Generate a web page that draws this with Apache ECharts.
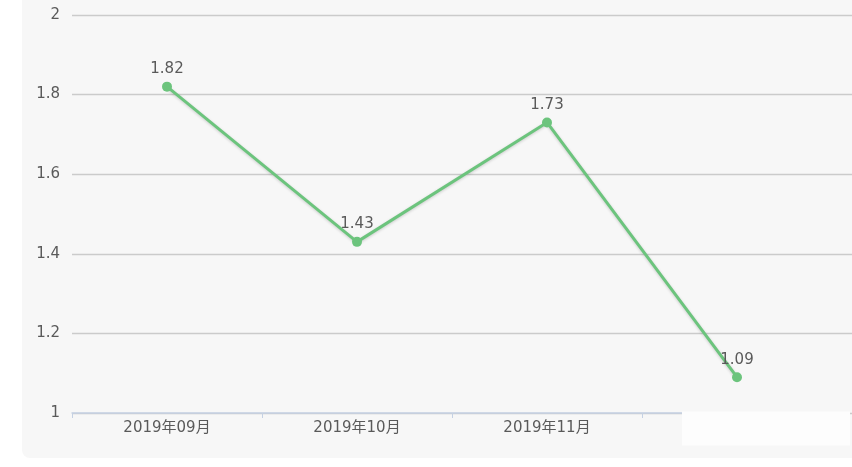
<!DOCTYPE html>
<html>
<head>
<meta charset="utf-8">
<script src="https://cdn.jsdelivr.net/npm/echarts@6/dist/echarts.min.js"></script>
<style>html,body{margin:0;padding:0;background:#fff;}#c{width:852px;height:467px;}</style>
</head>
<body>
<div id="c"></div>
<script>
const categories = ['2019年09月', '2019年10月', '2019年11月', '2019年12月'];
const values = [1.82, 1.43, 1.73, 1.09];
const yMin = 1, yMax = 2, yInterval = 0.2;

const chart = echarts.init(document.getElementById('c'), null, {renderer: 'canvas'});
const font = '"DejaVu Sans", "Noto Sans CJK SC", sans-serif';
chart.setOption({
  backgroundColor: '#ffffff',
  animation: false,
  graphic: [
    {type: 'rect', z: -10, shape: {x: 22, y: -10, width: 850, height: 468, r: 8}, style: {fill: '#f7f7f7'}},
    {type: 'rect', z: 100, shape: {x: 682, y: 411.5, width: 168, height: 34}, style: {fill: '#fdfdfd'}}
  ],
  grid: [
    {left: 72, right: 20, top: 15, bottom: 54},
    {left: 72, right: 0, top: 15, bottom: 54}
  ],
  xAxis: [
    {
      type: 'category', gridIndex: 0, data: categories, boundaryGap: true,
      axisLine: {lineStyle: {color: '#c5d1e3', width: 1.5}},
      axisTick: {show: true, alignWithLabel: false, length: 5, lineStyle: {color: '#c5d1e3'}},
      axisLabel: {color: '#5a5a5a', fontSize: 15, margin: 8, fontFamily: font}
    },
    {type: 'value', gridIndex: 1, show: false, min: 0, max: 1}
  ],
  yAxis: [
    {
      type: 'value', gridIndex: 0, min: yMin, max: yMax, interval: yInterval,
      axisLine: {show: false}, axisTick: {show: false},
      splitLine: {show: false},
      axisLabel: {color: '#5a5a5a', fontSize: 15, margin: 12, fontFamily: font}
    },
    {
      type: 'value', gridIndex: 1, min: yMin, max: yMax, interval: yInterval,
      axisLine: {show: false}, axisTick: {show: false}, axisLabel: {show: false},
      splitLine: {show: true, lineStyle: {color: '#cbcbcb', width: 1.3}}
    }
  ],
  series: [{
    type: 'line', xAxisIndex: 0, yAxisIndex: 0, data: values,
    symbol: 'circle', symbolSize: 10,
    itemStyle: {color: '#6cc47d'},
    lineStyle: {color: '#6cc47d', width: 3, shadowColor: 'rgba(0,0,0,0.18)', shadowBlur: 3, shadowOffsetY: 1},
    label: {show: true, position: 'top', color: '#5a5a5a', fontSize: 15, fontFamily: font, distance: 5},
    z: 5
  }]
});
</script>
</body>
</html>
